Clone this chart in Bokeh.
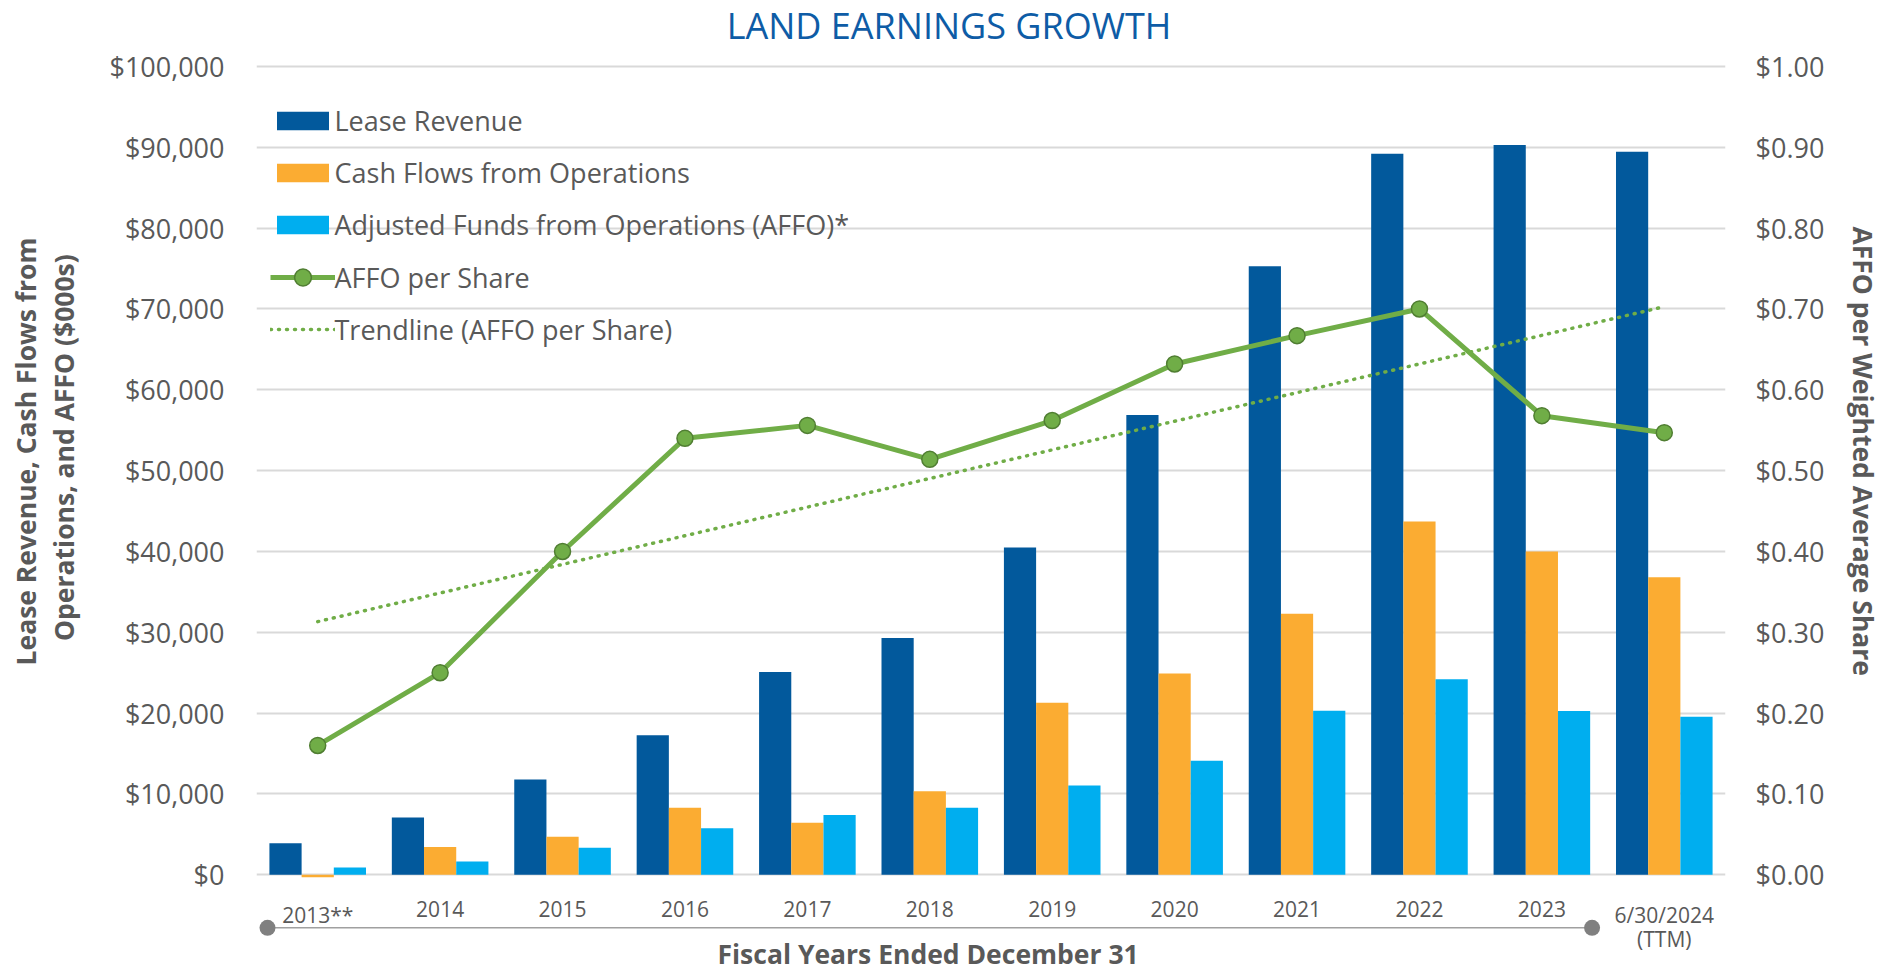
import numpy as np
from bokeh.plotting import figure
from bokeh.models import (ColumnDataSource, Range1d, LinearAxis, FixedTicker,
                          NumeralTickFormatter, FactorRange, Legend, LegendItem,
                          Label, Title)
from bokeh.transform import dodge
from bokeh.core.properties import value
from bokeh.embed import file_html
from bokeh.resources import INLINE

# ---------------- data ----------------
categories = ["2013**", "2014", "2015", "2016", "2017", "2018", "2019",
              "2020", "2021", "2022", "2023", "6/30/2024 (TTM)"]
tick_labels = ["2013**", "2014", "2015", "2016", "2017", "2018", "2019",
               "2020", "2021", "2022", "2023", "6/30/2024"]
tick_sublabels = ["", "", "", "", "", "", "", "", "", "", "", "(TTM)"]
lease_revenue = [3900, 7100, 11800, 17250, 25100, 29300, 40500,
                 56900, 75300, 89200, 90300, 89450]
cash_flows = [-300, 3450, 4700, 8300, 6450, 10350, 21300,
              24900, 32300, 43700, 40000, 36800]
affo = [900, 1650, 3350, 5750, 7400, 8300, 11050,
        14100, 20300, 24200, 20250, 19550]
affo_per_share = [0.16, 0.25, 0.40, 0.54, 0.556, 0.514, 0.562,
                  0.632, 0.667, 0.70, 0.568, 0.547]
left_ticks = [0, 10000, 20000, 30000, 40000, 50000, 60000, 70000, 80000, 90000, 100000]
right_ticks = [0.0, 0.1, 0.2, 0.3, 0.4, 0.5, 0.6, 0.7, 0.8, 0.9, 1.0]

# linear trendline of AFFO per share (least squares, like Excel)
xi = np.arange(len(categories))
coef = np.polyfit(xi, affo_per_share, 1)
trend = list(np.polyval(coef, xi))

# ---------------- styles / layout ----------------
FONT = "Open Sans"
GRAY = "#595959"
BLUE = "#02599C"
ORANGE = "#FBAC32"
LIGHTBLUE = "#00AEEF"
GREEN = "#70AD47"
TITLE_BLUE = "#0E5CA6"

W, H = 1889, 973
ML, MR = 256, 164
Y0_PX = 874.3      # pixel row of value 0
Y100_PX = 66.0     # pixel row of value 100,000
PX_PER = (Y0_PX - Y100_PX) / 100000.0
y_end = 100000 + Y100_PX / PX_PER
y_start = -(H - Y0_PX) / PX_PER
BW = 0.263

p = figure(width=W, height=H, x_range=FactorRange(*categories),
           y_range=Range1d(y_start, y_end), output_backend="svg",
           toolbar_location=None, x_axis_location=None, y_axis_location="left",
           min_border_left=ML, min_border_right=MR, min_border_top=0,
           min_border_bottom=0, outline_line_color=None)
p.background_fill_color = "white"
p.border_fill_color = "white"
p.extra_y_ranges = {"ps": Range1d(y_start / 100000.0, y_end / 100000.0)}

# axes
yl = p.yaxis[0]
yl.ticker = FixedTicker(ticks=left_ticks)
yl.formatter = NumeralTickFormatter(format="$0,0")
yr = LinearAxis(y_range_name="ps", ticker=FixedTicker(ticks=right_ticks),
                formatter=NumeralTickFormatter(format="$0.00"))
p.add_layout(yr, "right")
for ax, so, gap in ((yl, 32, 21), (yr, 30, 13)):
    ax.axis_line_color = None
    ax.major_tick_line_color = None
    ax.minor_tick_line_color = None
    ax.major_tick_out = 0
    ax.major_tick_in = 0
    ax.major_label_standoff = so
    ax.major_label_text_font = FONT
    ax.major_label_text_font_size = "27px"
    ax.major_label_text_color = GRAY
    # invisible spacer label keeps the axis titles at their distance
    ax.axis_label = " "
    ax.axis_label_text_font_size = "1px"
    ax.axis_label_standoff = gap

# axis titles as side-panel titles
TSIZE = "26.5px"
left_inner = Title(text="Operations, and AFFO ($000s)", align="left", offset=332.5,
                   vertical_align="bottom", standoff=0, text_font=FONT,
                   text_font_size=TSIZE, text_font_style="bold", text_color=GRAY)
left_outer = Title(text="Lease Revenue, Cash Flows from", align="left", offset=308,
                   vertical_align="bottom", standoff=0, text_font=FONT,
                   text_font_size=TSIZE, text_font_style="bold", text_color=GRAY)
p.add_layout(left_inner, "left")
p.add_layout(left_outer, "left")
right_title = Title(text="AFFO per Weighted Average Share", align="left", offset=226,
                    vertical_align="bottom", standoff=0, text_font=FONT,
                    text_font_size=TSIZE, text_font_style="bold", text_color=GRAY)
p.add_layout(right_title, "right")

p.ygrid.ticker = FixedTicker(ticks=left_ticks)
p.ygrid.grid_line_color = "#D9D9D9"
p.ygrid.grid_line_width = 2
for g in p.xgrid:
    g.visible = False

src = ColumnDataSource(dict(cat=categories, tick=tick_labels, sub=tick_sublabels,
                            lease=lease_revenue, cash=cash_flows, affo=affo,
                            ps=affo_per_share, trend=trend))

r_lease = p.vbar(x=dodge("cat", -BW, range=p.x_range), top="lease", width=BW,
                 source=src, fill_color=BLUE, line_color=None)
r_cash = p.vbar(x=dodge("cat", 0, range=p.x_range), top="cash", width=BW,
                source=src, fill_color=ORANGE, line_color=None)
r_affo = p.vbar(x=dodge("cat", BW, range=p.x_range), top="affo", width=BW,
                source=src, fill_color=LIGHTBLUE, line_color=None)

r_trend = p.line("cat", "trend", source=src, y_range_name="ps", line_color=GREEN,
                 line_width=3.5, line_dash="1 7", line_cap="round")
r_line = p.line("cat", "ps", source=src, y_range_name="ps", line_color=GREEN,
                line_width=5)
r_pts = p.scatter("cat", "ps", source=src, y_range_name="ps", size=16,
                  fill_color=GREEN, line_color="#507E32", line_width=1.5)

# category labels under the bars
lbl_style = dict(source=src, text_align="center", text_baseline="top",
                 text_font=value(FONT), text_font_size=value("21px"),
                 text_color=GRAY)
p.text(x="cat", y=0, text="tick", y_offset=25.7, **lbl_style)
p.text(x="cat", y=0, text="sub", y_offset=50.5, **lbl_style)

# decorative slider line under the category labels
slider_y = -6560
sl = ColumnDataSource(dict(x0=[categories[0]], x1=[categories[-2]], y=[slider_y]))
p.segment(x0=dodge("x0", -0.41, range=p.x_range), y0="y",
          x1=dodge("x1", 0.41, range=p.x_range), y1="y", source=sl,
          line_color="#A0A0A0", line_width=1.5)
p.scatter(x=dodge("x0", -0.41, range=p.x_range), y="y", source=sl, size=16,
          fill_color="#808080", line_color=None)
p.scatter(x=dodge("x1", 0.41, range=p.x_range), y="y", source=sl, size=16,
          fill_color="#808080", line_color=None)

common = dict(glyph_width=65, label_standoff=0, padding=0, margin=0,
              border_line_color=None, background_fill_alpha=0, label_text_font=FONT,
              label_text_font_size="27px", label_text_color=GRAY)
legend_bars = Legend(items=[
    LegendItem(label="Lease Revenue", renderers=[r_lease]),
    LegendItem(label="Cash Flows from Operations", renderers=[r_cash]),
    LegendItem(label="Adjusted Funds from Operations (AFFO)*", renderers=[r_affo]),
], location=(13.5, 730), glyph_height=23, label_height=37, spacing=15, **common)
legend_lines = Legend(items=[
    LegendItem(label="AFFO per Share", renderers=[r_line, r_pts]),
    LegendItem(label="Trendline (AFFO per Share)", renderers=[r_trend]),
], location=(13.5, 622.7), glyph_height=42, label_height=37, spacing=10, **common)
p.add_layout(legend_bars)
p.add_layout(legend_lines)

# texts (screen units relative to the plot frame, origin bottom-left)
p.add_layout(Label(x=948.5 - ML, y=H - 0.5, x_units="screen", y_units="screen",
                   text="LAND EARNINGS GROWTH", text_align="center",
                   text_baseline="top", text_font=FONT,
                   text_font_size="36px", text_color=TITLE_BLUE))
p.add_layout(Label(x=927.6 - ML, y=H - 935.0, x_units="screen", y_units="screen",
                   text="Fiscal Years Ended December 31", text_align="center",
                   text_baseline="top", text_font=FONT,
                   text_font_size="26.5px", text_font_style="bold", text_color=GRAY))

open("out.html", "w").write(file_html(p, INLINE))
